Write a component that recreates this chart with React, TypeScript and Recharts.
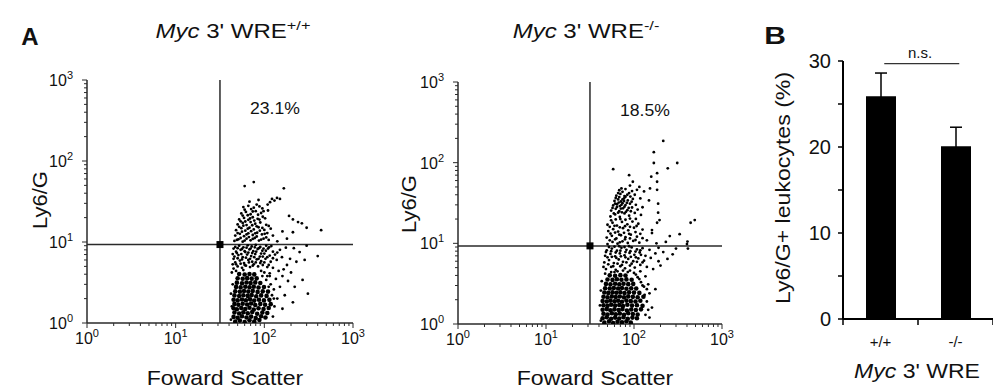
import React from 'react';
import { ScatterChart, Scatter, XAxis, YAxis, ReferenceLine, ReferenceDot, BarChart, Bar, ErrorBar } from 'recharts';

const FONT = '"Liberation Sans", Arial, Helvetica, sans-serif';

// ---------- Panel A data ----------
const logTicks = [1, 2, 3, 4, 5, 6, 7, 8, 9, 10, 20, 30, 40, 50, 60, 70, 80, 90, 100, 200, 300, 400, 500, 600, 700, 800, 900, 1000];
const gateFSC = 31.6;
const gateLy6G = 9.3;
const wtPercent = '23.1%';
const koPercent = '18.5%';

// dense core events (drawn larger), [forward scatter, Ly6/G]
const wtCore: [number, number][] = [
  [47,1.04],[53,1.07],[60,1.03],[68,1.08],[77,1.04],[88,1.09],
  [45,1.19],[50,1.16],[56,1.21],[63,1.17],[71,1.2],[80,1.15],[92,1.21],[103,1.17],
  [46,1.35],[52,1.31],[58,1.36],[65,1.32],[73,1.37],[83,1.3],[95,1.35],[108,1.33],
  [45,1.52],[49,1.48],[55,1.53],[61,1.49],[68,1.54],[76,1.47],[86,1.52],[98,1.49],[112,1.53],
  [46,1.72],[51,1.68],[57,1.73],[64,1.69],[71,1.74],[79,1.67],[90,1.72],[102,1.68],[118,1.71],
  [45,1.94],[50,1.9],[56,1.95],[62,1.91],[69,1.96],[77,1.89],[87,1.94],[99,1.9],[114,1.93],
  [46,2.19],[52,2.15],[58,2.2],[65,2.16],[72,2.21],[81,2.14],[92,2.19],[106,2.16],
  [47,2.47],[53,2.43],[59,2.48],[66,2.44],[74,2.49],[84,2.42],[96,2.46],[110,2.44],
  [48,2.79],[54,2.75],[61,2.8],[68,2.76],[76,2.81],[86,2.74],[99,2.78],
  [49,3.15],[56,3.1],[63,3.16],[70,3.11],[79,3.17],[90,3.12],
  [50,3.57],[57,3.52],[64,3.58],[72,3.53],[82,3.56],
  [52,4.02],[60,3.97],[68,4.03],[77,3.98],
];
const wtSparse: [number, number][] = [
  [42,1.1],[43,1.6],[42,2.3],[44,3.0],[43,4.2],[125,1.2],[130,1.6],[140,2.0],[128,2.6],[118,3.0],[105,3.4],[95,3.8],
  [115,4.1],[135,3.5],[150,2.8],[160,1.5],[170,2.2],[210,1.8],[220,2.8],[270,3.4],[310,2.3],[185,3.3],[200,4.2],
  [165,4.6],[145,4.4],[125,4.8],[160,3.8],
  [115,3.8],[122,2.2],[128,2.0],[112,2.8],[108,3.8],[100,4.2],[92,4.4],[58,4.5],[48,4.4],
  [45,4.7],[50,5.0],[56,4.8],[62,5.1],[69,4.9],[76,5.3],[85,5.0],[96,5.2],[108,4.9],
  [44,5.3],[48,5.3],[54,5.4],[60,5.2],[67,5.6],[74,5.1],[80,5.6],[90,5.5],[100,5.6],[112,5.2],
  [47,5.6],[53,5.9],[59,5.5],[66,6.0],[73,5.7],[82,6.1],[92,5.8],[103,6.2],[118,5.7],[138,6.0],
  [45,6.2],[50,6.3],[56,6.1],[62,6.4],[69,6.2],[77,6.5],[86,6.2],[96,6.6],[108,6.5],[125,6.3],
  [46,6.6],[51,6.9],[57,6.5],[64,7.0],[71,6.7],[79,7.1],[89,6.6],[100,7.2],[115,6.8],[132,7.0],[158,6.5],
  [44,7.1],[49,7.3],[55,7.1],[60,7.7],[66,7.4],[73,7.3],[81,7.6],[92,7.2],[104,7.8],[140,7.4],
  [48,7.6],[54,8.0],[61,7.5],[68,8.1],[75,7.7],[84,8.2],[95,7.8],[110,8.3],[125,7.6],[150,8.0],
  [45,8.3],[50,8.4],[56,8.2],[63,8.5],[70,8.3],[78,8.6],[87,8.4],[98,8.3],[113,8.6],
  [47,8.7],[52,9.0],[58,8.6],[65,9.1],[72,8.8],[80,9.2],[90,8.7],[105,9.0],[120,8.9],[175,8.5],
  [230,5.7],[285,6.0],[400,6.7],[195,6.2],[250,7.5],[180,5.2],[215,8.4],[300,9.0],
  [46,10.3],[51,10.8],[57,10.1],[63,11.0],[70,10.5],[78,11.2],[87,10.4],[98,11.0],[112,10.6],[140,10.2],[180,11.0],
  [49,10.6],[54,11.2],[60,10.4],[67,11.5],[74,10.9],[82,11.7],[92,10.7],[105,11.4],
  [47,12.0],[53,12.6],[59,11.8],[66,12.8],[74,12.2],[83,13.0],[94,12.4],[108,12.9],[125,12.0],
  [50,12.9],[56,13.4],[63,12.4],[71,13.6],[79,12.8],[89,13.8],[101,12.6],
  [48,14.0],[55,14.8],[61,13.8],[68,15.0],[76,14.3],[86,15.2],[100,14.1],[118,14.6],[160,13.5],[210,13.2],
  [52,15.4],[58,15.9],[65,14.6],[73,16.1],[82,15.6],[95,14.9],[112,15.8],
  [50,16.5],[57,17.2],[63,16.2],[70,17.6],[79,16.8],[90,17.4],[105,16.3],
  [54,18.0],[61,17.9],[69,19.5],[77,18.4],[88,18.9],[102,19.6],
  [52,19.0],[59,19.8],[66,18.8],[74,20.2],[84,19.3],[96,20.5],
  [57,21.2],[65,21.4],[74,23.8],[85,21.7],[98,24.0],
  [55,22.5],[62,23.5],[70,22.0],[80,24.0],[92,22.8],[110,24.5],
  [60,25.0],[71,25.5],[82,29.0],[95,26.0],[68,31.5],[86,33],
  [58,27.0],[66,28.0],[76,26.5],[88,27.5],[109,29],[116,31],[122,34],[139,35],[150,34],[130,32.5],
  [210,19],[240,17.6],[265,17],[300,15],[437,14],[190,21],
  [60,49],[76,55],[166,46],
];

const koCore: [number, number][] = [
  [46,1.04],[52,1.08],[58,1.03],[65,1.07],[73,1.05],[82,1.08],[92,1.04],
  [44,1.18],[49,1.21],[55,1.16],[61,1.2],[68,1.17],[76,1.21],[85,1.16],[96,1.2],[108,1.18],
  [45,1.34],[50,1.31],[56,1.36],[62,1.32],[69,1.35],[77,1.3],[86,1.36],[97,1.33],[110,1.31],
  [44,1.5],[49,1.53],[54,1.48],[60,1.52],[67,1.49],[74,1.53],[83,1.47],[93,1.51],[105,1.49],[120,1.52],
  [45,1.71],[50,1.68],[55,1.73],[61,1.69],[68,1.72],[75,1.67],[84,1.73],[95,1.69],[108,1.71],[125,1.68],
  [44,1.93],[49,1.9],[54,1.95],[60,1.91],[66,1.94],[73,1.89],[82,1.95],[92,1.92],[104,1.9],[118,1.94],
  [45,2.18],[50,2.15],[56,2.2],[62,2.16],[69,2.19],[77,2.14],[86,2.2],[97,2.17],[110,2.15],[128,2.18],
  [46,2.46],[51,2.43],[57,2.48],[63,2.44],[70,2.47],[78,2.42],[88,2.48],[100,2.45],[115,2.43],
  [47,2.78],[53,2.75],[59,2.8],[66,2.76],[73,2.79],[82,2.74],[93,2.78],[106,2.76],
  [48,3.14],[54,3.1],[61,3.16],[68,3.11],[76,3.15],[86,3.12],[98,3.14],
  [50,3.56],[57,3.52],[64,3.58],[72,3.53],[82,3.57],[94,3.54],
  [53,4.01],[61,3.97],[70,4.03],[80,3.99],
];
const koSparse: [number, number][] = [
  [42,1.1],[41,1.7],[42,2.6],[43,3.4],[135,1.3],[140,1.9],[150,2.4],[130,2.9],[120,3.3],[110,3.8],[100,4.3],
  [160,1.6],[145,3.1],[175,2.7],[135,3.9],[118,4.5],[90,4.6],[65,4.5],[55,4.4],[47,4.2],
  [115,3.6],[125,3.0],[140,2.7],[105,4.1],[85,4.4],[75,4.6],[60,4.4],[132,2.3],[145,1.5],[150,1.2],
  [48,4.8],[55,5.1],[62,4.7],[70,5.2],[79,4.9],[90,5.3],[102,5.0],[118,5.4],[140,5.1],[165,4.8],[200,5.3],
  [45,5.1],[51,5.5],[58,5.2],[65,5.6],[73,5.4],[82,5.8],[94,5.6],[108,5.9],[125,5.8],
  [46,5.8],[52,6.2],[59,5.7],[67,6.3],[75,5.9],[86,6.4],[98,6.0],[112,6.5],[130,6.1],[155,6.6],[190,6.0],[240,6.4],
  [50,6.7],[56,6.8],[63,6.6],[71,6.9],[80,6.7],[92,6.8],[105,6.7],[120,7.2],
  [47,7.0],[54,7.4],[61,6.9],[69,7.5],[78,7.1],[89,7.6],[101,7.2],[116,7.7],[135,7.0],[175,7.5],[215,7.8],[275,7.3],[300,8.6],
  [48,7.8],[55,8.0],[62,7.7],[70,8.1],[80,7.8],[91,8.0],[104,7.9],[118,8.2],
  [49,8.2],[56,8.6],[64,8.1],[72,8.8],[82,8.3],[94,8.9],[108,8.4],[125,8.7],[150,8.3],[190,8.8],[400,9.8],[410,8.6],[405,10.5],
  [52,9.0],[60,9.1],[68,9.2],[78,9.0],[88,9.2],
  [50,9.8],[57,10.4],[65,9.9],[74,10.6],[85,10.1],[98,10.7],[115,10.2],[140,10.9],[180,10.0],[230,10.4],
  [53,10.9],[61,11.2],[69,10.3],[79,11.2],[90,11.5],[104,11.0],[125,11.6],
  [49,11.8],[56,12.4],[63,11.5],[71,12.6],[80,11.9],[92,12.8],[108,12.1],[160,14.6],[160,13.4],[255,12.3],[330,13],
  [54,13.2],[61,13.6],[68,12.8],[77,13.5],[88,13.1],[104,13.8],[118,13.1],
  [51,14.2],[58,15.0],[66,14.0],[75,15.4],[86,14.5],[100,15.6],[125,14.8],
  [53,16.0],[60,16.5],[69,15.8],[79,16.3],[90,16.0],[107,16.4],
  [50,17.0],[57,18.0],[64,16.6],[73,18.4],[84,17.2],[96,18.6],[112,17.5],[195,19.4],[183,18],[490,19.4],[440,18],
  [55,19.3],[62,19.8],[70,20.0],[80,19.6],[90,20.3],[105,20.1],
  [54,21.5],[61,22.8],[69,21.2],[78,23.5],[88,22.0],[102,23.8],[120,22.5],[188,24],
  [59,23.5],[66,24.0],[73,24.2],[81,24.6],[92,25.0],
  [55,25.5],[62,26.8],[68,25.0],[75,27.2],[84,25.8],[95,27.8],[110,26.2],
  [57,27.5],[64,28.2],[71,27.0],[78,28.5],[87,27.5],[125,28],
  [58,29.5],[64,30.5],[69,29.0],[74,31.5],[80,29.8],[90,31.0],[105,30.0],[188,31],
  [61,31.0],[67,32.0],[72,30.0],[77,33.5],[83,31.8],[94,32.8],
  [60,33.5],[66,35.0],[71,33.0],[77,36.0],[85,34.0],[97,35.5],[148,34],[118,36],
  [62,36.5],[68,37.5],[74,35.0],[80,37.8],[91,38.0],
  [63,39.0],[70,41.0],[78,38.5],[88,42.0],[102,40.0],[66,42.0],[74,43.5],[84,40.0],[130,44],
  [68,45.5],[80,47.0],[95,44.5],[152,48],[183,46],[115,50],[72,48],[90,52],[108,46],
  [97,58],[183,58],[157,67],[183,74],[88,70],[58,83],[242,85],[168,99],[310,99],[168,135],[215,186],
];

// ---------- Panel B data ----------
const genotypes = ['+/+', '-/-'];
const ly6gMeans = [25.9, 20.1];
const ly6gSEM = [2.7, 2.2];
const barYTicks = [0, 5, 10, 15, 20, 25, 30];
const barXTicks = [0, 0.5, 1, 1.5, 2];
const nsSpan = [0.55, 1.55];
const nsLevel = 29.7;

const toPts = (a: [number, number][]) => a.map(([x, y]) => ({ x, y }));

const AX = '#2a2a2a';

const isMajor = (v: number) => Math.abs(Math.log10(v) - Math.round(Math.log10(v))) < 1e-6;

const LogXTick = (p: any) => {
  const v = p.payload.value;
  const maj = isMajor(v);
  return (
    <g>
      <line x1={p.x} x2={p.x} y1={p.y} y2={p.y + (maj ? 5 : 3)} stroke={AX} strokeWidth={1} />
      {maj && (
        <text x={p.x} y={p.y + 21} textAnchor="middle" fontSize={16} fontFamily={FONT} fill="#111">
          10<tspan dy={-7} fontSize={11}>{Math.round(Math.log10(v))}</tspan>
        </text>
      )}
    </g>
  );
};

const LogYTick = (p: any) => {
  const v = p.payload.value;
  const maj = isMajor(v);
  return (
    <g>
      <line x1={p.x} x2={p.x - (maj ? 5 : 3)} y1={p.y} y2={p.y} stroke={AX} strokeWidth={1} />
      {maj && (
        <text x={p.x - 14} y={p.y + 6} textAnchor="end" fontSize={16} fontFamily={FONT} fill="#111">
          10<tspan dy={-7} fontSize={11}>{Math.round(Math.log10(v))}</tspan>
        </text>
      )}
    </g>
  );
};

const coreDot = (p: any) => <circle cx={p.cx} cy={p.cy} r={2.3} fill="#000" />;
const sparseDot = (p: any) => <circle cx={p.cx} cy={p.cy} r={1.4} fill="#000" />;
const gateMark = (p: any) => <rect x={p.cx - 3.5} y={p.cy - 3.5} width={7} height={7} fill="#000" />;

const W = 993;
const H = 389;

function FlowPlot({ L, R, T, B, core, sparse }: any) {
  return (
    <div style={{ position: 'absolute', left: 0, top: 0 }}>
      <ScatterChart width={W} height={H} margin={{ top: T, left: L - 40, right: W - R, bottom: H - B - 30 }}>
        <XAxis dataKey="x" type="number" scale="log" domain={[1, 1000]} ticks={logTicks} interval={0}
          allowDataOverflow tickSize={0} tickMargin={0} tickLine={false} tick={LogXTick} height={30}
          axisLine={{ stroke: AX, strokeWidth: 1.5 }} />
        <YAxis dataKey="y" type="number" scale="log" domain={[1, 1000]} ticks={logTicks} interval={0}
          allowDataOverflow tickSize={0} tickMargin={0} tickLine={false} tick={LogYTick} width={40}
          axisLine={{ stroke: AX, strokeWidth: 1.5 }} />
        <ReferenceLine x={gateFSC} stroke={AX} strokeWidth={1.5} />
        <ReferenceLine y={gateLy6G} stroke={AX} strokeWidth={1.5} />
        <Scatter data={toPts(sparse)} shape={sparseDot} isAnimationActive={false} />
        <Scatter data={toPts(core)} shape={coreDot} isAnimationActive={false} />
        <ReferenceDot x={gateFSC} y={gateLy6G} r={3.5} shape={gateMark} />
      </ScatterChart>
    </div>
  );
}

const BarYTick = (p: any) => {
  const v = p.payload.value;
  const maj = v % 10 === 0;
  return (
    <g>
      <line x1={p.x} x2={p.x - 5} y1={p.y} y2={p.y} stroke="#000" strokeWidth={1.5} />
      {maj && (
        <text x={p.x - 12} y={p.y + 7} textAnchor="end" fontSize={20} fontFamily={FONT} fill="#111">{v}</text>
      )}
    </g>
  );
};

const BarXTick = (p: any) => {
  const v = p.payload.value;
  const isBoundary = Number.isInteger(v);
  return isBoundary ? (
    <line x1={p.x} x2={p.x} y1={p.y} y2={p.y + 6} stroke="#000" strokeWidth={1.5} />
  ) : (
    <text x={p.x} y={p.y + 28} textAnchor="middle" fontSize={15} fontFamily={FONT} fill="#111">
      {genotypes[Math.floor(v)]}
    </text>
  );
};

const barData = genotypes.map((g, i) => ({ pos: i + 0.5, g, mean: ly6gMeans[i], err: ly6gSEM[i] }));

function Txt({ x, y, size, children, bold, rotate, sx = 1 }: any) {
  return (
    <div style={{
      position: 'absolute', left: x, top: y,
      transform: `translate(-50%,-50%)${rotate ? ' rotate(-90deg)' : ''} scaleX(${sx})`,
      fontSize: size, fontFamily: FONT, lineHeight: 1, whiteSpace: 'nowrap',
      fontWeight: bold ? 700 : 400, color: '#111',
    }}>{children}</div>
  );
}

const Sup = ({ children }: any) => (
  <span style={{ fontSize: '0.68em', position: 'relative', top: '-0.6em' }}>{children}</span>
);

export default function App() {
  return (
    <div style={{ position: 'absolute', left: 0, top: 0, width: W, height: H, background: '#fff', overflow: 'hidden' }}>
      <FlowPlot L={87} R={353} T={80} B={323} core={wtCore} sparse={wtSparse} />
      <FlowPlot L={458} R={722} T={82} B={324} core={koCore} sparse={koSparse} />
      <div style={{ position: 'absolute', left: 0, top: 0 }}>
        <BarChart width={W} height={H} data={barData} margin={{ top: 61, left: 843 - 40, right: 0, bottom: H - 319 - 30 }}>
          <XAxis dataKey="pos" type="number" domain={[0, 2]} ticks={barXTicks} interval={0} tickSize={0} tickMargin={0}
            tickLine={false} tick={BarXTick} height={30} axisLine={{ stroke: '#000', strokeWidth: 2 }} />
          <YAxis type="number" domain={[0, 30]} ticks={barYTicks} interval={0} tickSize={0} tickMargin={0}
            tickLine={false} tick={BarYTick} width={40} axisLine={{ stroke: '#000', strokeWidth: 2 }} />
          <Bar dataKey="mean" fill="#000" barSize={30} isAnimationActive={false}>
            <ErrorBar dataKey="err" width={6} stroke="#000" strokeWidth={1.5} direction="y" />
          </Bar>
          <ReferenceLine segment={[{ x: nsSpan[0], y: nsLevel }, { x: nsSpan[1], y: nsLevel }]} stroke="#333" strokeWidth={1.2} />
        </BarChart>
      </div>

      <Txt x={30} y={37} size={24} bold>A</Txt>
      <Txt x={775} y={36} size={24} bold sx={1.25}>B</Txt>
      <Txt x={233} y={31} size={20} sx={1.2}><i>Myc</i> 3' WRE<Sup>+/+</Sup></Txt>
      <Txt x={586} y={31} size={20} sx={1.2}><i>Myc</i> 3' WRE<Sup>-/-</Sup></Txt>
      <Txt x={275} y={109} size={16} sx={1.1}>{wtPercent}</Txt>
      <Txt x={645} y={111} size={16} sx={1.1}>{koPercent}</Txt>
      <Txt x={225} y={377} size={21} sx={1.1}>Foward Scatter</Txt>
      <Txt x={595} y={377} size={21} sx={1.1}>Foward Scatter</Txt>
      <Txt x={40} y={200} size={20} sx={1.1} rotate>Ly6/G</Txt>
      <Txt x={409} y={204} size={20} sx={1.1} rotate>Ly6/G</Txt>
      <Txt x={782} y={188} size={21} sx={1.1} rotate>Ly6/G+ leukocytes (%)</Txt>
      <Txt x={920} y={52} size={15}>n.s.</Txt>
      <Txt x={917} y={371} size={20} sx={1.15}><i>Myc</i> 3' WRE</Txt>
    </div>
  );
}
